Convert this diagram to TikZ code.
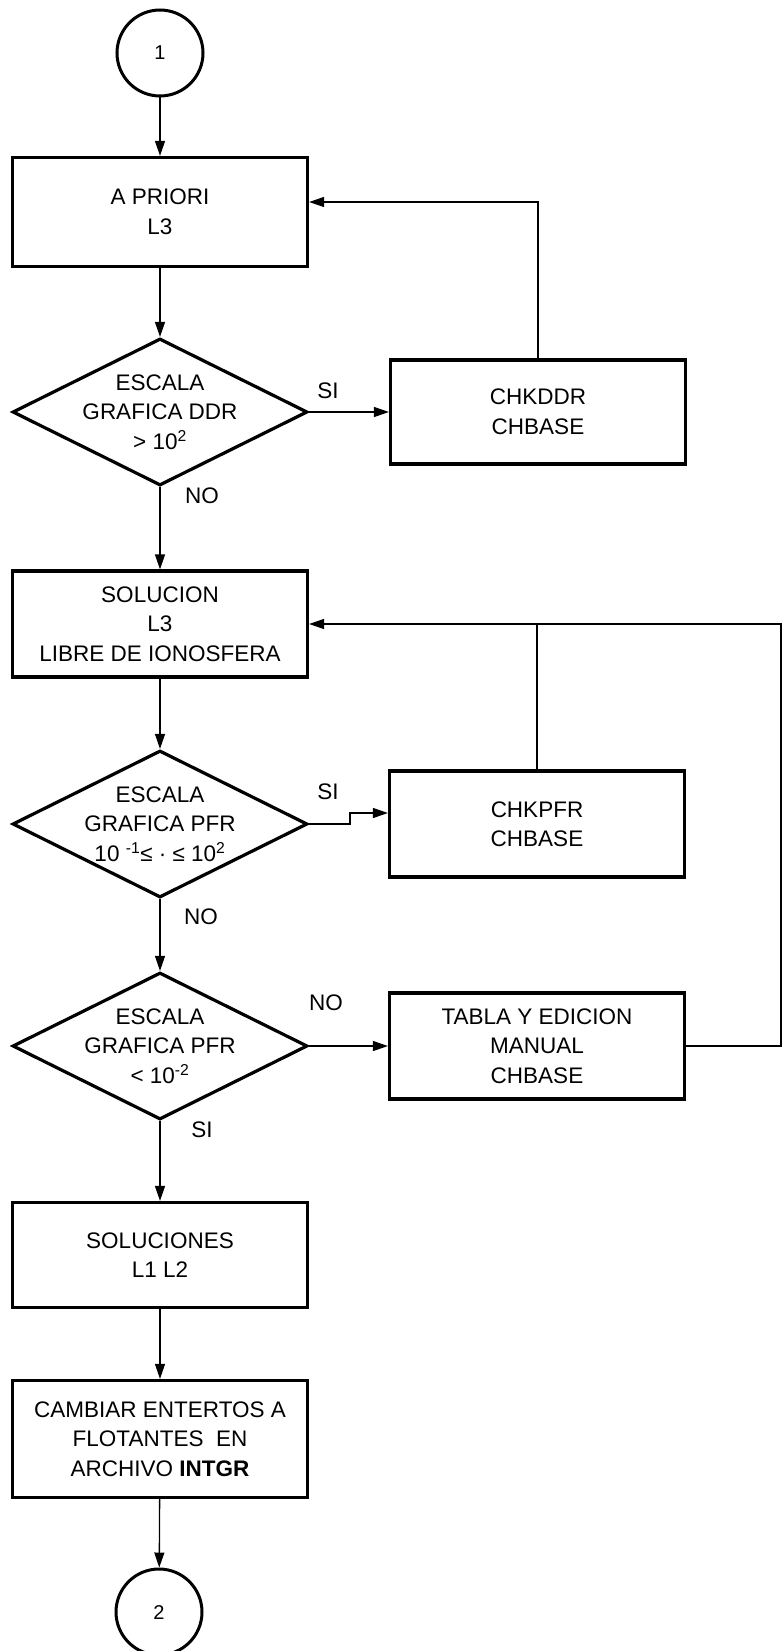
\documentclass[tikz,border=0pt]{standalone}
\usepackage{fontspec}
\setmainfont{Liberation Sans}
\usetikzlibrary{arrows.meta, shapes.geometric}
\newcommand{\chartfont}{\fontsize{22.5}{29.5}\selectfont}
\tikzset{
	proc/.style={draw, rectangle, line width=3.2pt, minimum width=295pt, inner sep=0pt, align=center, font=\chartfont},
	decision/.style={draw, diamond, line width=3.2pt, minimum width=295pt, minimum height=147pt, inner sep=0pt},
	dtext/.style={inner sep=0pt, align=center, font=\chartfont},
	conn/.style={draw, circle, line width=3pt, minimum size=86pt, inner sep=0pt, font=\fontsize{20}{24}\selectfont},
	lbl/.style={inner sep=0pt, font=\chartfont},
	flow/.style={line width=1.3pt, -{Triangle[length=15pt, width=10pt]}},
	link/.style={line width=1.3pt}
}

\begin{document}
\begin{tikzpicture}[x=1pt, y=-1pt]
	\useasboundingbox (0,0) rectangle (783,1651);

	% --- Main column ---
	\node[conn] (start) at (160,53) {1};
	\node[proc, minimum height=109pt] (apriori) at (160,212) {A PRIORI\\L3};
	\node[decision] (ddr) at (160,412) {};
	\node[dtext] (ddrtext) at (ddr) {ESCALA\\GRAFICA DDR\\> 10\textsuperscript{2}};
	\node[proc, minimum height=106pt] (sol3) at (160,624) {SOLUCION\\L3\\LIBRE DE IONOSFERA};
	\node[decision] (pfra) at (160,824) {};
	\node[dtext] (pfratext) at (pfra) {ESCALA\\GRAFICA PFR\\10 \textsuperscript{-1}≤ · ≤ 10\textsuperscript{2}};
	\node[decision] (pfrb) at (160,1046) {};
	\node[dtext] (pfrbtext) at (pfrb) {ESCALA\\GRAFICA PFR\\< 10\textsuperscript{-2}};
	\node[proc, minimum height=105pt] (sol12) at (160,1255) {SOLUCIONES\\L1 L2};
	\node[proc, minimum height=117pt] (cambiar) at (160,1439) {CAMBIAR ENTERTOS A\\FLOTANTES \ EN\\ARCHIVO \textbf{INTGR}};
	\node[conn] (finish) at (159,1612) {2};

	% --- Right column ---
	\node[proc, minimum height=104pt] (chkddr) at (538,412) {CHKDDR\\CHBASE};
	\node[proc, minimum height=106pt] (chkpfr) at (537,824) {CHKPFR\\CHBASE};
	\node[proc, minimum height=106pt] (tabla) at (537,1046) {TABLA Y EDICION\\MANUAL\\CHBASE};
	\coordinate (rtop) at (781,624);

	% Labels
	\node[lbl] (si1) at (328,391) {SI};
	\node[lbl] (no1) at (202,496) {NO};
	\node[lbl] (si2) at (328,792) {SI};
	\node[lbl] (no2) at (201,917) {NO};
	\node[lbl] (no3) at (326,1003) {NO};
	\node[lbl] (si3) at (202,1130) {SI};

	% Connectors
	\draw[flow] (start) -- (apriori);
	\draw[flow] (apriori) -- (ddr);
	\draw[flow] (ddr) -- (sol3);
	\draw[flow] (sol3) -- (pfra);
	\draw[flow] (pfra) -- (pfrb);
	\draw[flow] (pfrb) -- (sol12);
	\draw[flow] (sol12) -- (cambiar);
	\draw[flow] (cambiar) -- (finish);

	\draw[flow] (ddr.east) -- (chkddr.west);
	\draw[flow] (chkddr.north) |- ([yshift=10pt]apriori.east);
	\draw[flow] (pfra.east) -- ++(41,0) |- ([yshift=11pt]chkpfr.west);
	\draw[link] (chkpfr.north) -- (chkpfr.north |- sol3.east);
	\draw[flow] (pfrb.east) -- (tabla.west);
	\draw[flow] (tabla.east) -| (rtop) -- (sol3.east);
\end{tikzpicture}
\end{document}
